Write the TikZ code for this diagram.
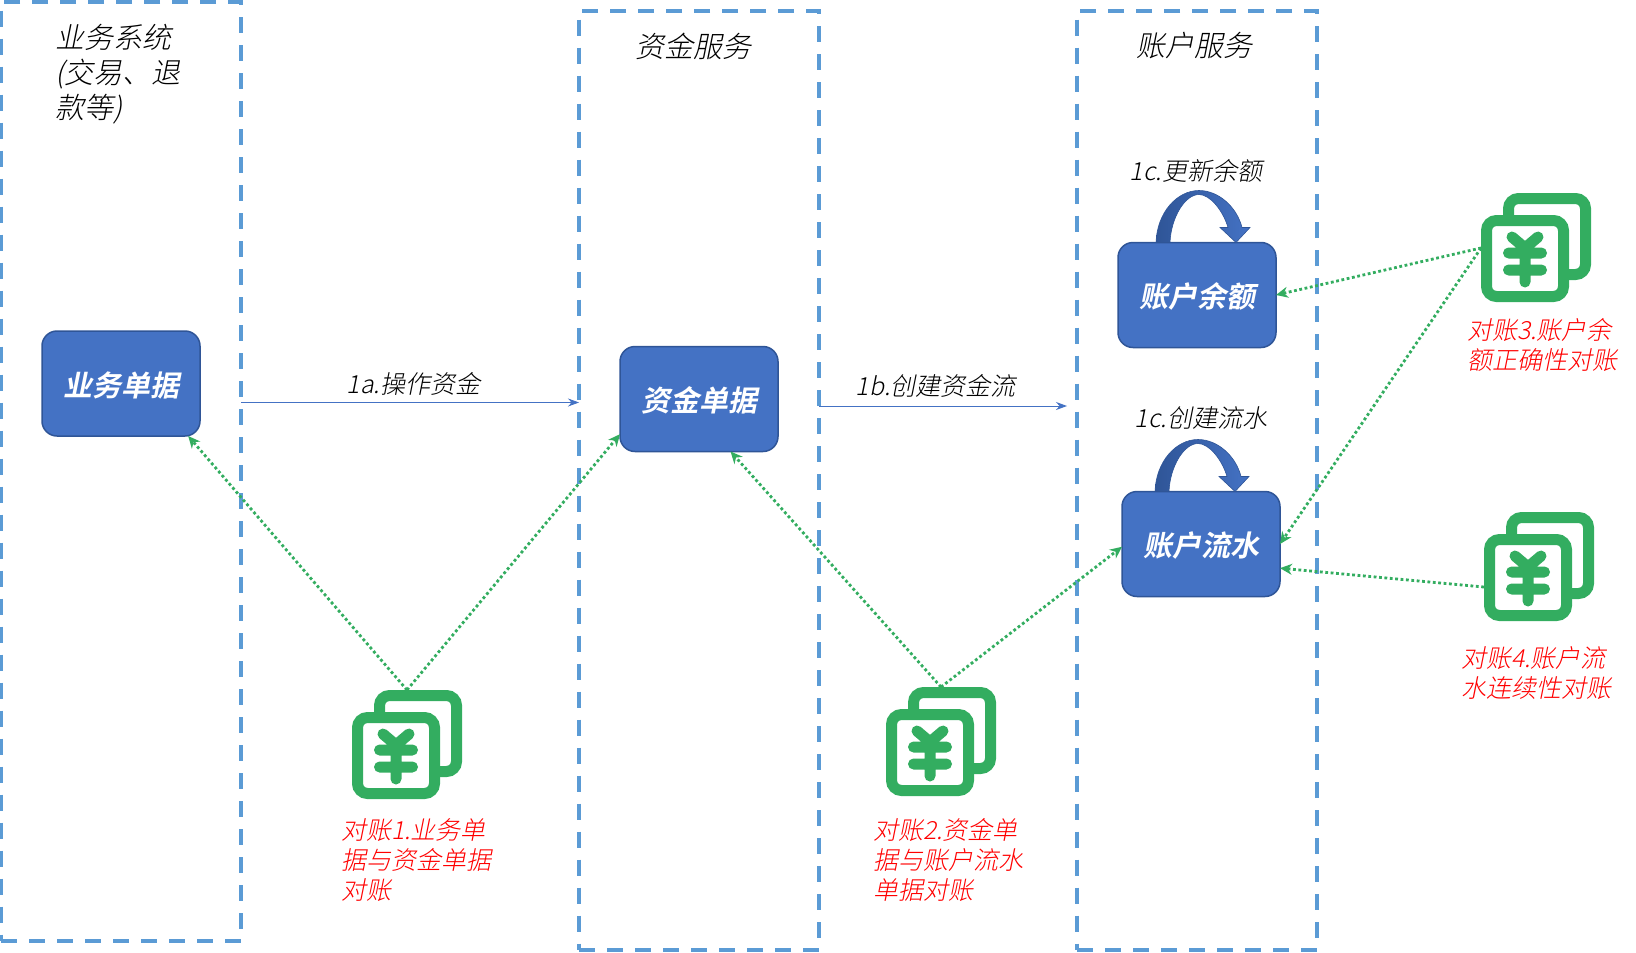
\documentclass[tikz,border=0pt]{standalone}
\usepackage{fontspec}
\usepackage{xcolor}
\usetikzlibrary{positioning, arrows.meta, calc}
\newfontfamily\cjk[FakeSlant=0.2,BoldFont={Noto Sans CJK SC Bold},BoldFeatures={FakeSlant=0.2}]{Noto Sans CJK SC Light}
\definecolor{boxblue}{HTML}{4472C4}
\definecolor{edgeblue}{HTML}{2F5597}
\definecolor{zoneblue}{HTML}{5B9BD5}
\definecolor{chkgreen}{HTML}{33AD60}
\tikzset{
  ledger/.pic={
    \draw[chkgreen, line width=11pt, rounded corners=10pt] (-27.5,-49.5) rectangle (49.5,26.5);
    \draw[chkgreen, fill=white, line width=11pt, rounded corners=10pt] (-49.5,-27.5) rectangle (27.5,48.5);
    \draw[chkgreen, line width=11pt, line cap=round, line join=round] (-24,-11) -- (-11,0) -- (2,-11) (-11,0) -- (-11,34) (-27.5,5) -- (5.5,5) (-27.5,22) -- (5.5,22);
  },
  selfloop/.pic={
    \draw[edgeblue, line width=0.6pt, left color=edgeblue, right color=boxblue]
      (-41,0) .. controls (-40,-30) and (-20,-52) .. (2,-52)
      .. controls (22,-52) and (40,-35) .. (45,-15) -- (53,-15) -- (39,0) -- (23,-15) -- (31,-15)
      .. controls (26,-32) and (13,-48) .. (2,-48)
      .. controls (-12,-48) and (-26,-25) .. (-27,0) -- cycle;
  }
}
\begin{document}
\begin{tikzpicture}[
  x=1pt, y=-1pt,
  zone/.style={draw=zoneblue, line width=4pt, dash pattern=on 16pt off 12pt, minimum width=240pt, minimum height=939pt, inner sep=0pt, outer sep=0pt},
  doc/.style={draw=edgeblue, fill=boxblue, line width=1.5pt, rounded corners=15pt, minimum width=158pt, minimum height=105pt, text=white, text height=28pt, text depth=3pt, font=\cjk\bfseries\fontsize{29}{34}\selectfont, outer sep=0pt},
  ledgerbox/.style={minimum size=110pt, inner sep=0pt, outer sep=0pt},
  title/.style={inner sep=0pt, align=left, font=\cjk\fontsize{29}{35}\selectfont},
  txt/.style={inner sep=0pt, text=black, font=\cjk\fontsize{25}{30}\selectfont},
  note/.style={inner sep=0pt, align=left, text=red, font=\cjk\fontsize{25}{30}\selectfont},
  arr/.style={-{Stealth[length=11pt,width=8pt]}, boxblue, line width=0.9pt},
  chk/.style={-{Stealth[length=12pt,width=11pt]}, chkgreen, line width=2.8pt, dash pattern=on 2.8pt off 2.6pt}
]
  \useasboundingbox (0,0) rectangle (1636,953);

  \node[zone] (zbiz) at (121,471) {};
  \node[zone] (zfund) at (699,480) {};
  \node[zone] (zacct) at (1197,480) {};

  \node[doc] (biz) at (121,383.5) {业务单据};
  \node[doc] (fund) at (699,399) {资金单据};
  \node[doc] (bal) at (1197,295) {账户余额};
  \node[doc] (flow) at (1201,544) {账户流水};

  \node[ledgerbox] (chk1) at (407,745) {};
  \node[ledgerbox] (chk2) at (941,742) {};
  \node[ledgerbox] (chk3) at (1536,248) {};
  \node[ledgerbox] (chk4) at (1539,567) {};
  \pic at (chk1) {ledger};
  \pic at (chk2) {ledger};
  \pic at (chk3) {ledger};
  \pic at (chk4) {ledger};

  \pic at (bal.north) {selfloop};
  \pic at ([xshift=-5pt]flow.north) {selfloop};

  \node[title] at (55,74) [anchor=west] {业务系统\\(交易、退\\款等)};
  \node[title] at (693,46) {资金服务};
  \node[title] at (1194,46) {账户服务};

  \draw[arr] (zbiz.east |- 0,402.5) -- node[txt, above=7pt, pos=0.51] {1a.操作资金} (zfund.west |- 0,402.5);
  \draw[arr] (zfund.east |- 0,406) -- node[txt, above=8pt, pos=0.47] {1b.创建资金流} (1067,406);

  \node[txt] at (1196,171) {1c.更新余额};
  \node[txt] at (1201,418) {1c.创建流水};

  \draw[chk] (chk1.north) -- (biz.-38);
  \draw[chk] (chk1.north) -- (fund.204);
  \draw[chk] (chk2.north) -- (fund.-59);
  \draw[chk] (chk2.north) -- (flow.-178);
  \draw[chk] (chk3.west) -- (bal.east);
  \draw[chk] (chk3.west) -- (flow.east);
  \draw[chk] (chk4.200) -- (flow.-17);

  \node[note, below=18pt of chk1, xshift=9pt] {对账1.业务单\\据与资金单据\\对账};
  \node[note, below=21pt of chk2, xshift=7pt] {对账2.资金单\\据与账户流水\\单据对账};
  \node[note, below=15pt of chk3, xshift=6pt] {对账3.账户余\\额正确性对账};
  \node[note, below=24pt of chk4, xshift=-3pt] {对账4.账户流\\水连续性对账};
\end{tikzpicture}
\end{document}
